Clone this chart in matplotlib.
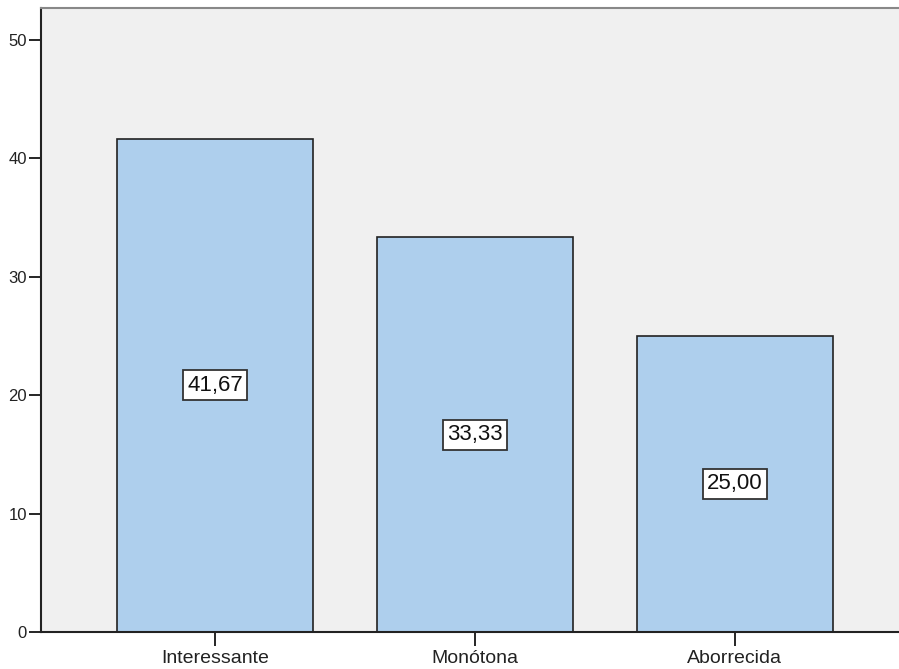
import matplotlib
matplotlib.use("Agg")
import matplotlib.pyplot as plt

# Data.
categories = ["Interessante", "Monótona", "Aborrecida"]
percentages = [41.67, 33.33, 25.00]
value_labels = ["41,67", "33,33", "25,00"]

plt.rcParams["font.family"] = ["Liberation Sans", "DejaVu Sans"]

W, H = 899, 669
fig = plt.figure(figsize=(W / 100, H / 100), dpi=100)
ax = fig.add_axes([41 / W, (H - 632) / H, 1 - 41 / W, (632 - 8) / H])
ax.set_facecolor("#f0f0f0")

positions = range(len(categories))
ax.bar(positions, percentages, width=0.754, color="#aecfed",
       edgecolor="#222222", linewidth=1.2)

# Value labels in boxes at half the bar height.
for x, v, lab in zip(positions, percentages, value_labels):
    ax.text(x, v / 2, lab, ha="center", va="center", fontsize=16,
            color="#111111",
            bbox=dict(boxstyle="square,pad=0.2", facecolor="white",
                      edgecolor="#333333", linewidth=1.3))

ax.set_xlim(-0.669, 2.631)
ax.set_ylim(0, 52.7)
ax.set_yticks([0, 10, 20, 30, 40, 50])
ax.set_xticks(list(positions))
ax.set_xticklabels(categories)
ax.tick_params(axis="y", direction="out", length=9, width=1.2, pad=1,
               labelsize=12, colors="black", labelcolor="#222222")
ax.tick_params(axis="x", direction="out", length=10, width=1.2, pad=3,
               labelsize=14, colors="black", labelcolor="#222222")

ax.spines["right"].set_visible(False)
ax.spines["top"].set_color("#888888")
ax.spines["top"].set_linewidth(1.5)
ax.spines["left"].set_linewidth(1.5)
ax.spines["bottom"].set_linewidth(1.5)
ax.spines["left"].set_color("#222222")
ax.spines["bottom"].set_color("#222222")

fig.savefig("out.png", dpi=100)
